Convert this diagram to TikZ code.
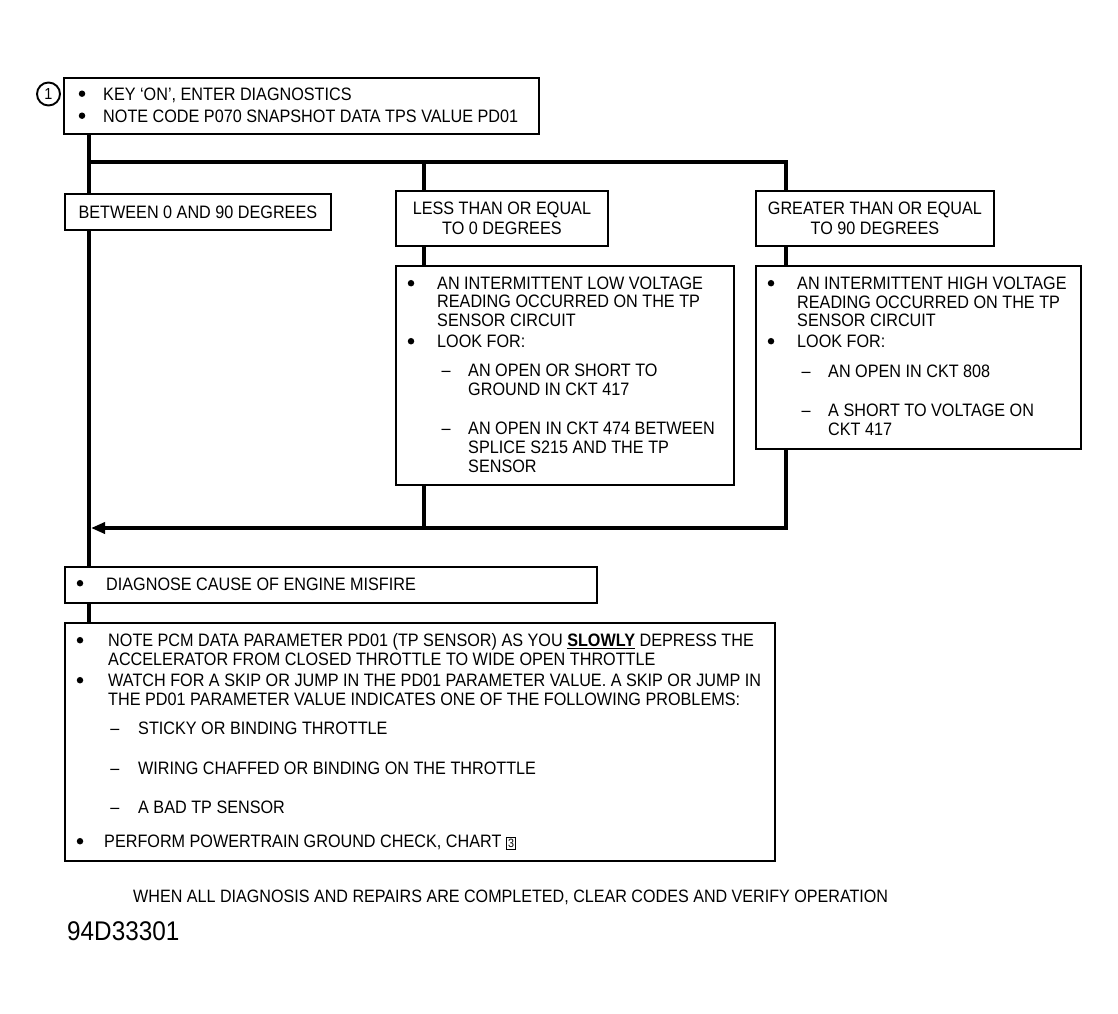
\documentclass[tikz,border=0pt]{standalone}
\usepackage{fontspec}
\setmainfont{Liberation Sans}[FakeStretch=0.9]
\usetikzlibrary{arrows.meta}
\newcommand{\fs}{\fontsize{18}{18}\selectfont}
\newcommand{\fsl}{\fontsize{18}{20}\selectfont}
\newcommand{\chartbox}[1]{{\setlength\fboxsep{1.2pt}\setlength\fboxrule{0.9pt}\fbox{\fontsize{12}{12}\selectfont #1}}}
\begin{document}
\begin{tikzpicture}[x=1pt,y=-1pt,
  box/.style={draw, line width=1.8pt, fill=white, inner sep=0pt, anchor=north west},
  lbox/.style={box, align=center, font=\fsl},
  conn/.style={line width=3.6pt},
  t/.style={anchor=base west, inner sep=0pt, font=\fs},
  bul/.style={anchor=base, inner sep=0pt, font=\fs},
  dot/.style={circle, fill, inner sep=0pt, minimum size=6.5pt, yshift=6.3pt},
  arr/.style={conn, -{Triangle[length=14pt,width=11pt]}}]
\useasboundingbox (0,0) rectangle (1118,1013);

% boxes
\node[box, minimum width=475pt, minimum height=56pt] (b1) at (63,77) {};
\node[circle, draw, line width=1.9pt, minimum size=23pt, inner sep=0pt, font=\fontsize{16}{16}\selectfont] (c1) at (48.5,94) {1};
\node[lbox, minimum width=266pt, minimum height=36pt] (between) at (64,193) {BETWEEN 0 AND 90 DEGREES};
\node[lbox, minimum width=212pt, minimum height=55pt] (less) at (395,190) {LESS THAN OR EQUAL\\TO 0 DEGREES};
\node[lbox, minimum width=238pt, minimum height=55pt] (greater) at (755,190) {GREATER THAN OR EQUAL\\TO 90 DEGREES};
\node[box, minimum width=338pt, minimum height=219pt] (low) at (395,265) {};
\node[box, minimum width=325pt, minimum height=183pt] (high) at (755,265) {};
\node[box, minimum width=532pt, minimum height=36pt] (diag) at (64,566) {};
\node[box, minimum width=710pt, minimum height=238pt] (bot) at (64,622) {};

% junction coordinates
\coordinate (j0) at (89,162);
\coordinate (j1) at (424,162);
\coordinate (j2) at (786,162);
\coordinate (m0) at (91,528);
\coordinate (m1) at (424,528);
\coordinate (m2) at (786,528);

% connectors
\draw[conn] (b1.south -| j0) -- (between.north -| j0);
\draw[conn] (between.south -| j0) -- (diag.north -| j0);
\draw[conn] (diag.south -| j0) -- (bot.north -| j0);
\draw[conn] (j0) -- (j2) -- (greater.north -| j2);
\draw[conn] (j1) -- (less.north -| j1);
\draw[conn] (less.south -| j1) -- (low.north -| j1);
\draw[conn] (greater.south -| j2) -- (high.north -| j2);
\draw[conn] (low.south -| j1) -- (m1);
\draw[arr] (high.south -| j2) -- (m2) -- (m0);

% box 1 text
\node[dot] (b1b1) at (82,100) {};
\node[t] (b1t1) at (103,100) {KEY ‘ON’, ENTER DIAGNOSTICS};
\node[dot] (b1b2) at (82,122) {};
\node[t] (b1t2) at (103,122) {NOTE CODE P070 SNAPSHOT DATA TPS VALUE PD01};

% low box text
\node[dot] (lob1) at (411,289.5) {};
\node[t] (lot1) at (437,289.5) {AN INTERMITTENT LOW VOLTAGE};
\node[t] (lot2) at (437,307.5) {READING OCCURRED ON THE TP};
\node[t] (lot3) at (437,326.5) {SENSOR CIRCUIT};
\node[dot] (lob2) at (411,347.5) {};
\node[t] (lot4) at (437,347.5) {LOOK FOR:};
\node[bul] (lod1) at (446,376.5) {–};
\node[t] (lot5) at (468,376.5) {AN OPEN OR SHORT TO};
\node[t] (lot6) at (468,395.5) {GROUND IN CKT 417};
\node[bul] (lod2) at (446,434.5) {–};
\node[t] (lot7) at (468,434.5) {AN OPEN IN CKT 474 BETWEEN};
\node[t] (lot8) at (468,453.5) {SPLICE S215 AND THE TP};
\node[t] (lot9) at (468,472.5) {SENSOR};

% high box text
\node[dot] (hib1) at (771,289.5) {};
\node[t] (hit1) at (797,289.5) {AN INTERMITTENT HIGH VOLTAGE};
\node[t] (hit2) at (797,308) {READING OCCURRED ON THE TP};
\node[t] (hit3) at (797,326.5) {SENSOR CIRCUIT};
\node[dot] (hib2) at (771,347.5) {};
\node[t] (hit4) at (797,347.5) {LOOK FOR:};
\node[bul] (hid1) at (806,377.5) {–};
\node[t] (hit5) at (828,377.5) {AN OPEN IN CKT 808};
\node[bul] (hid2) at (806,416.5) {–};
\node[t] (hit6) at (828,416.5) {A SHORT TO VOLTAGE ON};
\node[t] (hit7) at (828,435.5) {CKT 417};

% diagnose box
\node[dot] (dgb1) at (80,589.5) {};
\node[t] (dgt1) at (106,590.5) {DIAGNOSE CAUSE OF ENGINE MISFIRE};

% bottom box
\node[dot] (btb1) at (80,646.5) {};
\node[t] (btt1) at (108,646.5) {NOTE PCM DATA PARAMETER PD01 (TP SENSOR) AS YOU \textbf{\underline{SLOWLY}} DEPRESS THE};
\node[t] (btt2) at (108,665.5) {ACCELERATOR FROM CLOSED THROTTLE TO WIDE OPEN THROTTLE};
\node[dot] (btb2) at (80,686.5) {};
\node[t] (btt3) at (108,686.5) {WATCH FOR A SKIP OR JUMP IN THE PD01 PARAMETER VALUE. A SKIP OR JUMP IN};
\node[t] (btt4) at (108,705.5) {THE PD01 PARAMETER VALUE INDICATES ONE OF THE FOLLOWING PROBLEMS:};
\node[bul] (btd1) at (115,734.5) {–};
\node[t] (btt5) at (138,734.5) {STICKY OR BINDING THROTTLE};
\node[bul] (btd2) at (115,774.5) {–};
\node[t] (btt6) at (138,774.5) {WIRING CHAFFED OR BINDING ON THE THROTTLE};
\node[bul] (btd3) at (115,813.5) {–};
\node[t] (btt7) at (138,813.5) {A BAD TP SENSOR};
\node[dot] (btb3) at (80,847.5) {};
\node[t] (btt8) at (104,847.5) {PERFORM POWERTRAIN GROUND CHECK, CHART \chartbox{3}};

% footer
\node[t, font=\fontsize{17.9}{18}\selectfont] (note) at (133,902) {WHEN ALL DIAGNOSIS AND REPAIRS ARE COMPLETED, CLEAR CODES AND VERIFY OPERATION};
\node[t, font=\fontsize{27}{27}\selectfont] (fig) at (67,940) {94D33301};
\end{tikzpicture}
\end{document}
